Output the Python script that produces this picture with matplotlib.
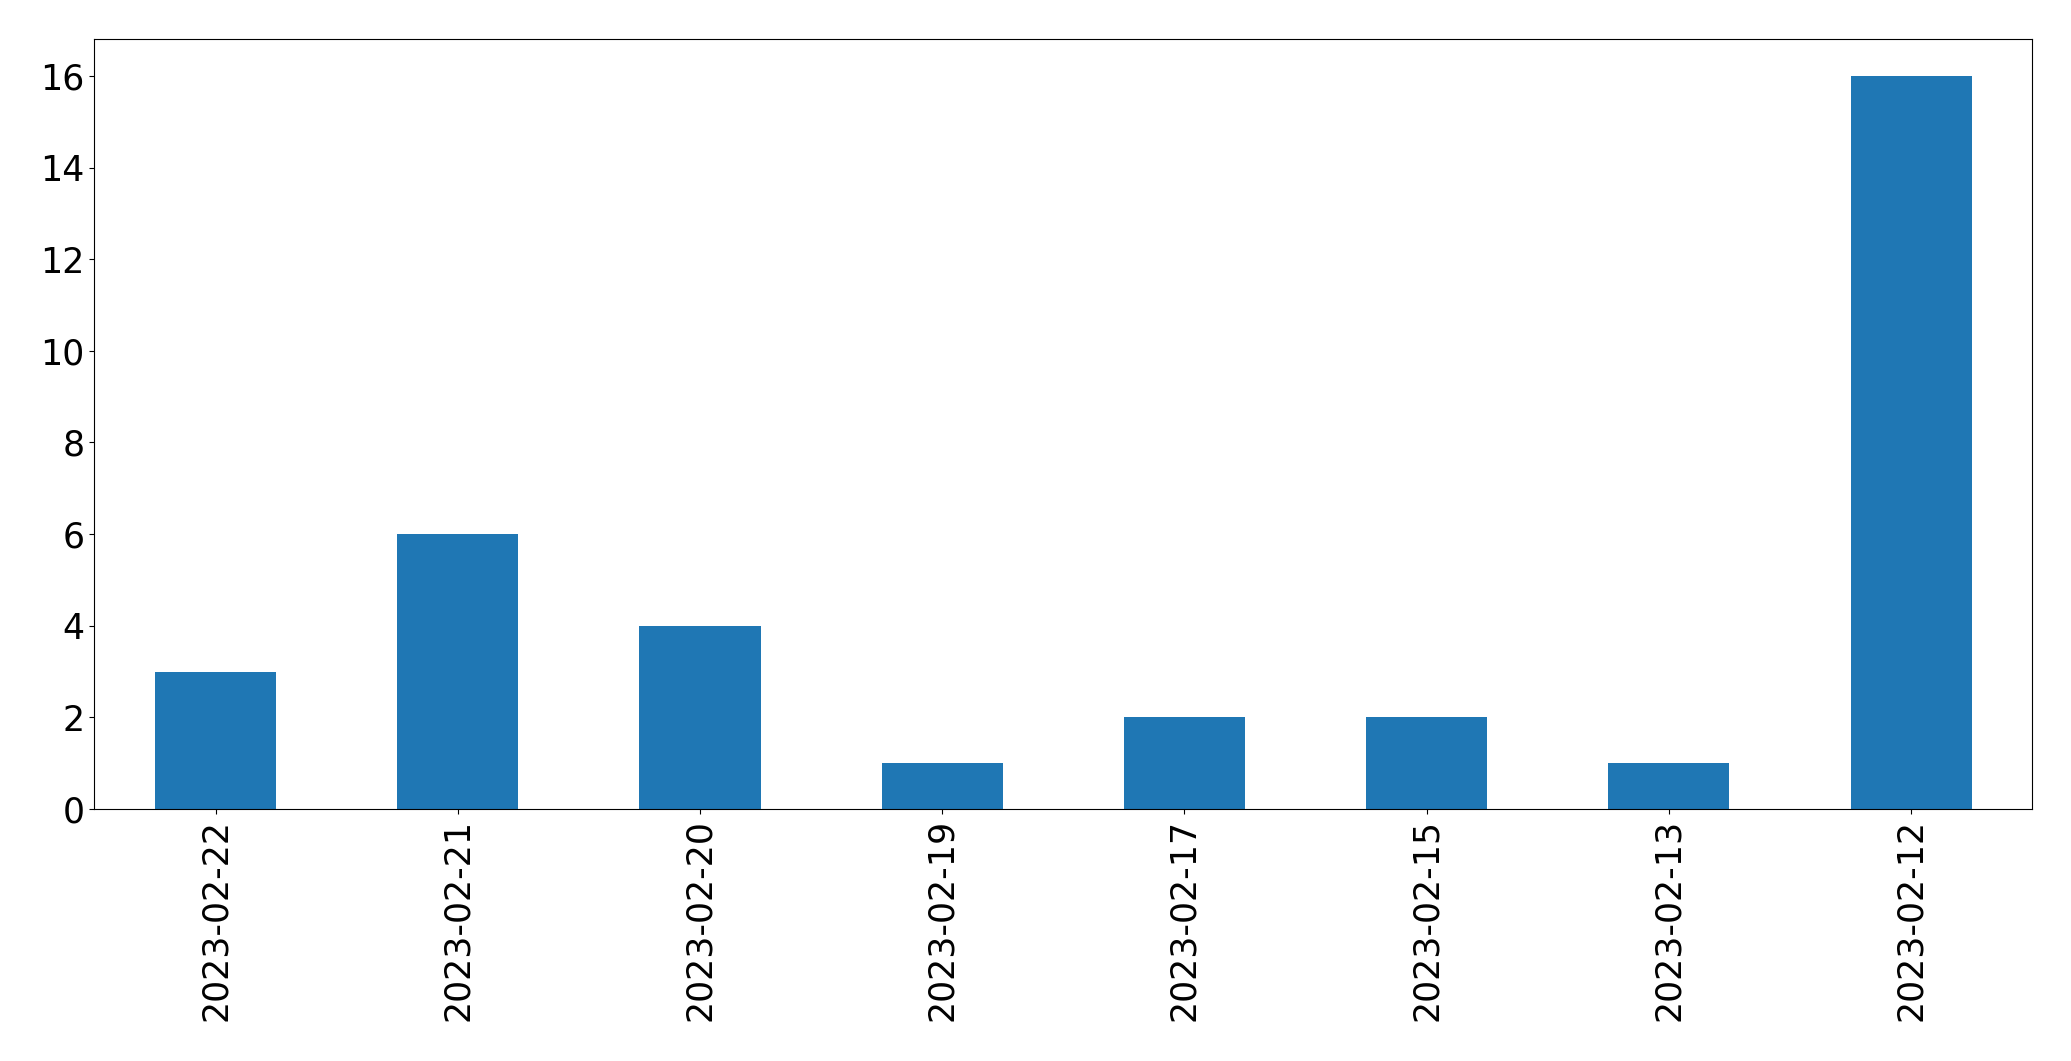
import pandas as pd
import matplotlib
matplotlib.use("Agg")
import matplotlib.pyplot as plt

dates = ["2023-02-22", "2023-02-21", "2023-02-20", "2023-02-19",
         "2023-02-17", "2023-02-15", "2023-02-13", "2023-02-12"]
counts = [3, 6, 4, 1, 2, 2, 1, 16]

plt.rcParams['font.size'] = 25

s = pd.Series(counts, index=dates)

fig = plt.figure(figsize=(20.71, 10.61), dpi=100)
ax = fig.add_subplot(111)
s.plot(kind="bar", ax=ax, color="#1f77b4")
fig.subplots_adjust(left=0.0456, right=0.9813, top=0.963, bottom=0.2375)

plt.savefig("out.png", dpi=100)
